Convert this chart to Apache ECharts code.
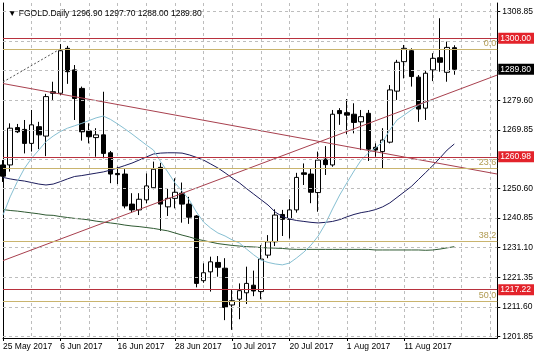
<!DOCTYPE html>
<html><head><meta charset="utf-8">
<script src="https://cdn.jsdelivr.net/npm/echarts@6/dist/echarts.min.js"></script>
<style>html,body{margin:0;padding:0;background:#fff}#c{width:536px;height:357px}</style>
</head><body><div id="c"></div>
<script>
const dates = ['25 May 2017','26 May 2017','29 May 2017','30 May 2017','31 May 2017',
 '1 Jun 2017','2 Jun 2017','5 Jun 2017','6 Jun 2017','7 Jun 2017','8 Jun 2017','9 Jun 2017','12 Jun 2017','13 Jun 2017','14 Jun 2017','15 Jun 2017','16 Jun 2017','19 Jun 2017','20 Jun 2017','21 Jun 2017','22 Jun 2017','23 Jun 2017','26 Jun 2017','27 Jun 2017','28 Jun 2017','29 Jun 2017','30 Jun 2017',
 '3 Jul 2017','4 Jul 2017','5 Jul 2017','6 Jul 2017','7 Jul 2017','10 Jul 2017','11 Jul 2017','12 Jul 2017','13 Jul 2017','14 Jul 2017','17 Jul 2017','18 Jul 2017','19 Jul 2017','20 Jul 2017','21 Jul 2017','24 Jul 2017','25 Jul 2017','26 Jul 2017','27 Jul 2017','28 Jul 2017','31 Jul 2017',
 '1 Aug 2017','2 Aug 2017','3 Aug 2017','4 Aug 2017','7 Aug 2017','8 Aug 2017','9 Aug 2017','10 Aug 2017','11 Aug 2017','14 Aug 2017','15 Aug 2017','16 Aug 2017','17 Aug 2017','18 Aug 2017','21 Aug 2017','22 Aug 2017'];
const futureSlots = ['','','','','',''];
const opens  = [1258.3,1258.3,1270.6,1270.0,1265.4,1270.9,1267.8,1282.4,1281.9,1296.7,1289.6,1283.5,1269.5,1267.3,1268.2,1262.3,1255.5,1255.3,1245.4,1243.5,1246.8,1250.8,1257.5,1244.5,1247.3,1249.0,1245.4,1241.5,1220.2,1223.1,1226.2,1224.3,1212.2,1214.1,1216.2,1218.7,1216.6,1228.6,1233.0,1242.0,1240.4,1243.5,1255.7,1255.3,1249.2,1260.2,1258.3,1276.2,1275.5,1275.0,1272.5,1275.3,1264.1,1262.7,1265.8,1282.6,1292.3,1295.9,1287.2,1277.0,1289.6,1293.6,1288.8,1296.9];
const closes = [1254.6,1270.4,1269.2,1265.4,1271.5,1268.2,1280.8,1281.9,1295.9,1289.0,1280.2,1269.2,1267.6,1268.2,1262.1,1255.3,1255.1,1244.8,1243.5,1247.0,1251.4,1256.9,1245.4,1247.3,1249.3,1245.4,1241.1,1219.3,1222.8,1226.4,1224.6,1211.4,1213.6,1216.9,1219.3,1216.8,1227.3,1233.0,1241.8,1240.4,1243.5,1254.2,1255.2,1249.3,1259.9,1258.4,1275.0,1275.2,1274.7,1272.3,1274.2,1263.5,1263.2,1266.5,1283.0,1292.1,1296.7,1287.4,1276.7,1288.5,1293.4,1292.1,1297.0,1289.8];
const lows   = [1252.7,1256.1,1268.8,1262.1,1262.7,1263.5,1261.2,1279.7,1281.3,1285.0,1273.1,1266.3,1265.4,1261.0,1260.5,1252.3,1252.0,1244.0,1242.6,1241.8,1245.7,1250.3,1236.6,1241.5,1244.0,1239.3,1238.9,1218.0,1219.5,1216.6,1221.5,1207.2,1204.0,1207.5,1212.5,1215.1,1214.1,1227.6,1231.6,1234.9,1234.1,1242.6,1251.7,1245.7,1242.9,1255.0,1257.7,1271.5,1268.4,1268.7,1263.2,1259.6,1261.0,1257.0,1265.4,1279.7,1286.8,1284.1,1272.5,1273.1,1285.9,1289.0,1285.7,1288.0];
const highs  = [1259.9,1272.0,1271.8,1273.1,1276.4,1272.5,1281.7,1285.7,1298.1,1297.5,1291.2,1284.1,1272.0,1270.4,1282.4,1262.9,1257.7,1256.9,1249.0,1249.0,1255.5,1259.4,1259.0,1250.6,1253.9,1252.5,1247.8,1241.8,1225.9,1228.1,1228.3,1227.6,1217.1,1219.3,1224.8,1223.5,1231.9,1235.2,1243.7,1243.5,1247.0,1255.7,1258.8,1257.2,1262.7,1264.5,1276.4,1277.0,1280.0,1278.6,1276.4,1276.4,1265.4,1270.4,1284.6,1292.9,1297.8,1296.7,1287.9,1289.2,1295.1,1306.6,1298.9,1297.7];
const maFast = [1241.8,1247.8,1252.8,1257.2,1260.5,1263.2,1266.0,1267.8,1269.3,1270.4,1271.2,1272.0,1272.9,1273.8,1274.4,1273.3,1271.8,1270.2,1268.5,1266.7,1264.9,1263.2,1259.4,1256.0,1252.4,1249.7,1246.8,1242.8,1239.5,1237.5,1235.9,1234.9,1233.6,1232.6,1230.6,1228.7,1227.0,1226.2,1225.7,1225.4,1226.0,1227.7,1229.6,1231.9,1234.9,1238.9,1243.8,1248.4,1252.4,1256.3,1259.9,1262.2,1263.9,1265.9,1269.8,1273.1,1274.7,1276.4,1278.0,1279.0,1279.7];
const maMid  = [1254.2,1253.7,1253.3,1253.0,1252.5,1252.0,1251.7,1252.0,1252.8,1253.7,1254.5,1254.8,1255.2,1255.6,1256.0,1256.6,1257.3,1258.1,1258.9,1259.9,1260.9,1261.9,1262.2,1262.3,1262.3,1262.2,1261.6,1260.8,1259.9,1258.6,1257.3,1255.7,1254.0,1252.4,1250.5,1248.7,1246.9,1245.1,1242.8,1241.3,1240.5,1240.0,1239.7,1239.4,1239.2,1239.4,1239.7,1240.3,1241.2,1242.0,1242.6,1243.0,1243.6,1244.5,1245.8,1247.6,1249.4,1251.2,1253.5,1255.8,1258.1,1260.6,1263.2,1265.2];
const maSlow = [1243.6,1243.3,1243.1,1242.8,1242.5,1242.2,1241.8,1241.7,1241.3,1241.0,1240.7,1240.5,1240.2,1239.8,1239.5,1239.2,1238.9,1238.5,1238.2,1238.0,1237.7,1237.4,1237.0,1236.6,1235.9,1235.2,1234.6,1233.9,1233.4,1232.9,1232.4,1232.1,1231.8,1231.6,1231.4,1231.3,1231.1,1231.0,1230.9,1230.8,1230.6,1230.5,1230.5,1230.5,1230.5,1230.5,1230.5,1230.5,1230.5,1230.5,1230.5,1230.5,1230.3,1230.3,1230.3,1230.3,1230.3,1230.3,1230.3,1230.2,1230.3,1230.6,1231.0,1231.4];
const yTicks = [1201.85,1211.60,1221.35,1231.10,1240.85,1250.60,1260.10,1269.85,1279.60,1289.35,1299.10,1308.85];
const resistLevels = [1300.00, 1260.98, 1217.22];
const fibLevels = [1296.5, 1257.3, 1233.1, 1213.5];
const fibNames = ['0.0', '23.6', '38.2', '50.0'];
const trendDown = [[0, 1285.1], [69, 1255.3]];
const trendUp = [[0, 1226.8], [69, 1287.9]];
const fibDiag = [[0, 1285.6], [8, 1296.5]];
const yMin = 1201.32, yMax = 1311.62;

const FONT = 'Liberation Sans, DejaVu Sans, sans-serif';
const last = opens.length - 1;
const cats = dates.concat(futureSlots);
const candles = opens.map((o, i) => [o, closes[i], lows[i], highs[i]]);
const showLab = (i) => i % 8 === 0 && i < dates.length;
const chart = echarts.init(document.getElementById('c'));
const lineSeries = (data, color, z, type) => ({
  type: 'line', data, symbol: 'none', silent: true, z, clip: true,
  lineStyle: { color, width: 1, type: type || 'solid' }, animation: false
});
chart.setOption({
  animation: false,
  backgroundColor: '#fff',
  title: {
    text: '\u25BC FGOLD.Daily ' + [opens[last], highs[last], lows[last], closes[last]].map(v => v.toFixed(2)).join(' '),
    left: 3, top: 4,
    textStyle: { fontSize: 8.5, fontWeight: 'normal', color: '#000', fontFamily: FONT }
  },
  grid: { left: 3, right: 38, top: 3, bottom: 19 },
  xAxis: {
    type: 'category', data: cats, boundaryGap: false,
    axisLine: { lineStyle: { color: '#000', width: 1 } },
    axisTick: { show: true, interval: showLab, length: 3, lineStyle: { color: '#000' } },
    axisLabel: { interval: showLab, align: 'left', margin: 4, fontSize: 8.5, color: '#000', fontFamily: FONT },
    splitLine: { show: true, interval: (i) => i % 4 === 0, lineStyle: { color: '#bdbdbd', type: [3, 3] } }
  },
  yAxis: [{
    type: 'value', position: 'right', min: yMin, max: yMax,
    axisLine: { show: true, lineStyle: { color: '#000' } },
    axisTick: { show: true, customValues: yTicks, length: 3, lineStyle: { color: '#000' } },
    axisLabel: { customValues: yTicks, formatter: (v) => v.toFixed(2), fontSize: 8.5, color: '#000', margin: 5, fontFamily: FONT },
    splitLine: { show: false }
  }, {
    type: 'value', position: 'left', min: yMin, max: yMax,
    axisLine: { show: true, lineStyle: { color: '#000' } },
    axisTick: { show: false }, axisLabel: { show: false }, splitLine: { show: false }
  }],
  series: [
    {
      type: 'line', data: [], silent: true, z: 1,
      markLine: {
        silent: true, symbol: 'none', animation: false,
        label: { show: false },
        lineStyle: { color: '#bdbdbd', type: [3, 3], width: 1 },
        data: yTicks.map(v => ({ yAxis: v }))
      }
    },
    {
      type: 'candlestick', data: candles, barWidth: 5, z: 2, silent: true,
      itemStyle: { color: '#fff', color0: '#000', borderColor: '#000', borderColor0: '#000', borderWidth: 1 }
    },
    lineSeries(maSlow, '#2f5a32', 3),
    lineSeries(maMid, '#1c1c5c', 3),
    lineSeries(maFast, '#86bfd2', 3),
    lineSeries(trendDown, '#a8404e', 4),
    lineSeries(trendUp, '#a8404e', 4),
    lineSeries(fibDiag, '#555', 4, [2, 2]),
    {
      type: 'line', data: [], silent: true, z: 5,
      markLine: {
        silent: true, symbol: 'none', animation: false,
        data: fibLevels.map((v, i) => ({
          yAxis: v, lineStyle: { color: '#c9b46e', width: 1, type: 'solid' },
          label: { show: true, position: 'insideEndTop', formatter: fibNames[i], color: '#b09a50', fontSize: 9, fontFamily: FONT, distance: 1 }
        })).concat(resistLevels.map(v => ({
          yAxis: v, lineStyle: { color: '#b8323e', width: 1, type: 'solid' },
          label: { show: true, position: 'end', formatter: v.toFixed(2), color: '#fff', backgroundColor: '#e3232b', fontSize: 8.5, fontFamily: FONT, padding: [1, 3, 1, 2], distance: 1 }
        }))).concat([{
          yAxis: closes[last], lineStyle: { color: 'rgba(0,0,0,0)', width: 1 },
          label: { show: true, position: 'end', formatter: closes[last].toFixed(2), color: '#fff', backgroundColor: '#000', fontSize: 8.5, fontFamily: FONT, padding: [1, 3, 1, 2], distance: 1 }
        }])
      }
    }
  ]
});
</script></body></html>
